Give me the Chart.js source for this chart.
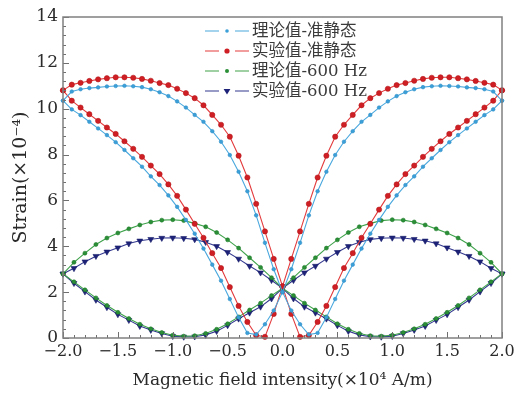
<!DOCTYPE html>
<html><head><meta charset="utf-8">
<script src="https://cdn.jsdelivr.net/npm/chart.js@4/dist/chart.umd.min.js"></script>
<style>html,body{margin:0;padding:0;background:#fff;}</style>
</head><body>
<canvas id="c" width="520" height="394"></canvas>
<script>
// ---------- data ----------
const seriesNames = ['理论值-准静态', '实验值-准静态', '理论值-600 Hz', '实验值-600 Hz'];
const xTickLabels = ['−2.0', '−1.5', '−1.0', '−0.5', '0.0', '0.5', '1.0', '1.5', '2.0'];
const yTickLabels = ['0', '2', '4', '6', '8', '10', '12', '14'];

// quasi-static loops: field rising (-2 -> 2) and falling (2 -> -2)
const hQuasiUp = [-2, -1.92, -1.84, -1.76, -1.68, -1.6, -1.52, -1.44, -1.36, -1.28, -1.2, -1.12, -1.04, -0.96, -0.88, -0.8, -0.72, -0.64, -0.56, -0.48, -0.4, -0.32, -0.24, -0.16, -0.08, 0, 0.08, 0.16, 0.24, 0.32, 0.4, 0.48, 0.56, 0.64, 0.72, 0.8, 0.88, 0.96, 1.04, 1.12, 1.2, 1.28, 1.36, 1.44, 1.52, 1.6, 1.68, 1.76, 1.84, 1.92, 2];
const hQuasiDown = [2, 1.92, 1.84, 1.76, 1.68, 1.6, 1.52, 1.44, 1.36, 1.28, 1.2, 1.12, 1.04, 0.96, 0.88, 0.8, 0.72, 0.64, 0.56, 0.48, 0.4, 0.32, 0.24, 0.16, 0.08, 0, -0.08, -0.16, -0.24, -0.32, -0.4, -0.48, -0.56, -0.64, -0.72, -0.8, -0.88, -0.96, -1.04, -1.12, -1.2, -1.28, -1.36, -1.44, -1.52, -1.6, -1.68, -1.76, -1.84, -1.92, -2];

const theoryQuasiUp = [10.35, 9.97, 9.72, 9.43, 9.14, 8.85, 8.54, 8.2, 7.84, 7.47, 7.05, 6.67, 6.22, 5.72, 5.15, 4.55, 3.9, 3.2, 2.5, 1.7, 0.9, 0.22, 0.15, 0.6, 1.2, 2.0, 3.0, 4.15, 5.35, 6.4, 7.25, 7.98, 8.56, 9.02, 9.43, 9.73, 10.05, 10.32, 10.55, 10.72, 10.85, 10.94, 10.98, 11.0, 10.99, 10.97, 10.93, 10.9, 10.85, 10.75, 10.35];
const theoryQuasiDown = [10.35, 9.97, 9.72, 9.43, 9.14, 8.85, 8.54, 8.2, 7.84, 7.47, 7.05, 6.67, 6.22, 5.72, 5.15, 4.55, 3.9, 3.2, 2.5, 1.7, 0.9, 0.22, 0.15, 0.6, 1.2, 2.0, 3.0, 4.15, 5.35, 6.4, 7.25, 7.98, 8.56, 9.02, 9.43, 9.73, 10.05, 10.32, 10.55, 10.72, 10.85, 10.94, 10.98, 11.0, 10.99, 10.97, 10.93, 10.9, 10.85, 10.75, 10.35];

const testQuasiUp = [10.8, 10.35, 10.05, 9.76, 9.47, 9.18, 8.9, 8.58, 8.25, 7.9, 7.52, 7.15, 6.7, 6.2, 5.6, 4.98, 4.37, 3.7, 3.05, 2.22, 1.4, 0.7, 0.12, 0.05, 1.05, 2.25, 3.45, 4.65, 5.85, 7.0, 7.95, 8.78, 9.3, 9.73, 10.15, 10.46, 10.68, 10.87, 11.03, 11.12, 11.22, 11.3, 11.35, 11.37, 11.37, 11.33, 11.28, 11.21, 11.13, 11.05, 10.8];
const testQuasiDown = [10.8, 10.35, 10.05, 9.76, 9.47, 9.18, 8.9, 8.58, 8.25, 7.9, 7.52, 7.15, 6.7, 6.2, 5.6, 4.98, 4.37, 3.7, 3.05, 2.22, 1.4, 0.7, 0.12, 0.05, 1.05, 2.25, 3.45, 4.65, 5.85, 7.0, 7.95, 8.78, 9.3, 9.73, 10.15, 10.46, 10.68, 10.87, 11.03, 11.12, 11.22, 11.3, 11.35, 11.37, 11.37, 11.33, 11.28, 11.21, 11.13, 11.05, 10.8];

// 600 Hz loops
const hFastUp = [-2, -1.9, -1.8, -1.7, -1.6, -1.5, -1.4, -1.3, -1.2, -1.1, -1, -0.9, -0.8, -0.7, -0.6, -0.5, -0.4, -0.3, -0.2, -0.1, 0, 0.1, 0.2, 0.3, 0.4, 0.5, 0.6, 0.7, 0.8, 0.9, 1, 1.1, 1.2, 1.3, 1.4, 1.5, 1.6, 1.7, 1.8, 1.9, 2];
const hFastDown = [2, 1.9, 1.8, 1.7, 1.6, 1.5, 1.4, 1.3, 1.2, 1.1, 1, 0.9, 0.8, 0.7, 0.6, 0.5, 0.4, 0.3, 0.2, 0.1, 0, -0.1, -0.2, -0.3, -0.4, -0.5, -0.6, -0.7, -0.8, -0.9, -1, -1.1, -1.2, -1.3, -1.4, -1.5, -1.6, -1.7, -1.8, -1.9, -2];

const theoryFastUp = [2.8, 2.45, 2.1, 1.75, 1.42, 1.12, 0.85, 0.6, 0.4, 0.24, 0.12, 0.08, 0.1, 0.2, 0.38, 0.62, 0.92, 1.22, 1.52, 1.85, 2.17, 2.63, 3.08, 3.5, 3.92, 4.28, 4.6, 4.85, 5.0, 5.12, 5.16, 5.14, 5.06, 4.93, 4.76, 4.58, 4.36, 4.08, 3.7, 3.3, 2.8];
const theoryFastDown = [2.8, 2.45, 2.1, 1.75, 1.42, 1.12, 0.85, 0.6, 0.4, 0.24, 0.12, 0.08, 0.1, 0.2, 0.38, 0.62, 0.92, 1.22, 1.52, 1.85, 2.17, 2.63, 3.08, 3.5, 3.92, 4.28, 4.6, 4.85, 5.0, 5.12, 5.16, 5.14, 5.06, 4.93, 4.76, 4.58, 4.36, 4.08, 3.7, 3.3, 2.8];

const testFastUp = [2.8, 2.39, 2.02, 1.66, 1.34, 1.03, 0.78, 0.52, 0.35, 0.2, 0.08, 0.05, 0.06, 0.13, 0.3, 0.55, 0.84, 1.1, 1.36, 1.72, 2.17, 2.52, 2.85, 3.14, 3.45, 3.74, 4.0, 4.18, 4.3, 4.35, 4.37, 4.36, 4.31, 4.24, 4.12, 3.94, 3.76, 3.57, 3.33, 3.04, 2.8];
const testFastDown = [2.8, 2.39, 2.02, 1.66, 1.34, 1.03, 0.78, 0.52, 0.35, 0.2, 0.08, 0.05, 0.06, 0.13, 0.3, 0.55, 0.84, 1.1, 1.36, 1.72, 2.17, 2.52, 2.85, 3.14, 3.45, 3.74, 4.0, 4.18, 4.3, 4.35, 4.37, 4.36, 4.31, 4.24, 4.12, 3.94, 3.76, 3.57, 3.33, 3.04, 2.8];

// ---------- build ----------
function loop(hUp, yUp, hDown, yDown) {
  const pts = [];
  hUp.forEach((h, i) => pts.push({x: h, y: yUp[i]}));
  hDown.forEach((h, i) => pts.push({x: h, y: yDown[i]}));
  return pts;
}

const styles = [
  {line: '#4aa8de', fill: '#3b9fd8', border: '#2f8fc8', r: 1.8, shape: 'circle', rot: 0},
  {line: '#e33a3c', fill: '#cf1f24', border: '#b5151a', r: 2.6, shape: 'circle', rot: 0},
  {line: '#3ea24a', fill: '#2a8f36', border: '#1f7a2a', r: 2.0, shape: 'circle', rot: 0},
  {line: '#34398f', fill: '#1d2278', border: '#171c6a', r: 3.4, shape: 'triangle', rot: 180}
];
const loops = [
  loop(hQuasiUp, theoryQuasiUp, hQuasiDown, theoryQuasiDown),
  loop(hQuasiUp, testQuasiUp, hQuasiDown, testQuasiDown),
  loop(hFastUp, theoryFastUp, hFastDown, theoryFastDown),
  loop(hFastUp, testFastUp, hFastDown, testFastDown)
];
const datasets = loops.map((d, i) => ({
  label: seriesNames[i],
  data: d,
  showLine: true,
  borderColor: styles[i].line,
  borderWidth: 1.1,
  pointStyle: styles[i].shape,
  pointRotation: styles[i].rot,
  pointRadius: styles[i].r,
  pointBackgroundColor: styles[i].fill,
  pointBorderColor: styles[i].border,
  pointBorderWidth: 0.6,
  tension: 0,
  clip: 4
}));

const FONT = "'DejaVu Serif', 'Liberation Serif', serif";
const CJK = "'DejaVu Serif', 'Noto Sans CJK SC', serif";

const frameTicks = {
  id: 'frameTicks',
  afterDatasetsDraw(chart) {
    const {ctx, chartArea: {left, right, top, bottom}, scales: {x, y}} = chart;
    ctx.save();
    ctx.strokeStyle = '#6f6f6f';
    ctx.lineWidth = 1;
    ctx.beginPath();
    for (let k = 0; k <= 40; k++) {
      const v = -2 + k * 0.1;
      const px = Math.round(x.getPixelForValue(v)) + 0.5;
      const len = (k % 5 === 0) ? 6 : 3;
      ctx.moveTo(px, bottom); ctx.lineTo(px, bottom - len);
    }
    for (let k = 0; k <= 35; k++) {
      const v = k * 0.4;
      const py = Math.round(y.getPixelForValue(v)) + 0.5;
      const len = (k % 5 === 0) ? 6 : 3;
      ctx.moveTo(left, py); ctx.lineTo(left + len, py);
    }
    ctx.stroke();
    ctx.strokeStyle = '#808080';
    ctx.lineWidth = 1.5;
    ctx.strokeRect(left, top, right - left, bottom - top);
    ctx.restore();
  },
  afterDraw(chart) {
    const {ctx} = chart;
    ctx.save();
    const x0 = 205, x1 = 249, xm = 227, tx = 252;
    const rows = [31, 51, 71, 91];
    rows.forEach((ry, i) => {
      const s = styles[i];
      ctx.strokeStyle = s.line;
      ctx.lineWidth = 1.2;
      ctx.beginPath();
      ctx.moveTo(x0, ry); ctx.lineTo(x0 + 14, ry);
      ctx.moveTo(x1 - 14, ry); ctx.lineTo(x1, ry);
      ctx.stroke();
      ctx.fillStyle = s.fill;
      ctx.strokeStyle = s.border;
      ctx.beginPath();
      if (s.shape === 'circle') {
        ctx.arc(xm, ry, s.r, 0, Math.PI * 2);
      } else {
        ctx.moveTo(xm - s.r, ry - s.r * 0.6);
        ctx.lineTo(xm + s.r, ry - s.r * 0.6);
        ctx.lineTo(xm, ry + s.r);
        ctx.closePath();
      }
      ctx.fill();
      ctx.fillStyle = '#3a3a3a';
      ctx.font = "16.5px " + CJK;
      ctx.textBaseline = 'middle';
      ctx.textAlign = 'left';
      ctx.fillText(seriesNames[i], tx, ry + 1);
    });
    ctx.restore();
  }
};

new Chart(document.getElementById('c'), {
  type: 'scatter',
  data: {datasets},
  options: {
    responsive: false,
    animation: false,
    devicePixelRatio: 1,
    layout: {padding: {top: 17, right: 18, left: 0, bottom: 0}},
    plugins: {legend: {display: false}, tooltip: {enabled: false}},
    scales: {
      x: {
        type: 'linear', min: -2, max: 2,
        afterFit(s) { s.height = 56; },
        grid: {display: false, drawTicks: false},
        border: {display: false},
        ticks: {
          stepSize: 0.5, padding: 4, color: '#2a2a2a',
          font: {family: FONT, size: 16},
          callback: (v) => xTickLabels[Math.round((v + 2) / 0.5)]
        },
        title: {display: true, text: 'Magnetic field intensity(×10⁴ A/m)', color: '#2a2a2a',
          font: {family: FONT, size: 17}, padding: {top: 0, bottom: 3}}
      },
      y: {
        type: 'linear', min: 0, max: 14,
        afterFit(s) { s.width = 63; },
        grid: {display: false, drawTicks: false},
        border: {display: false},
        ticks: {
          stepSize: 2, padding: 5, color: '#2a2a2a',
          font: {family: FONT, size: 17},
          callback: (v) => yTickLabels[Math.round(v / 2)]
        },
        title: {display: true, text: 'Strain(×10⁻⁴)', color: '#2a2a2a',
          font: {family: FONT, size: 19}, padding: {top: 10, bottom: 0}}
      }
    }
  },
  plugins: [frameTicks]
});
</script>
</body></html>
